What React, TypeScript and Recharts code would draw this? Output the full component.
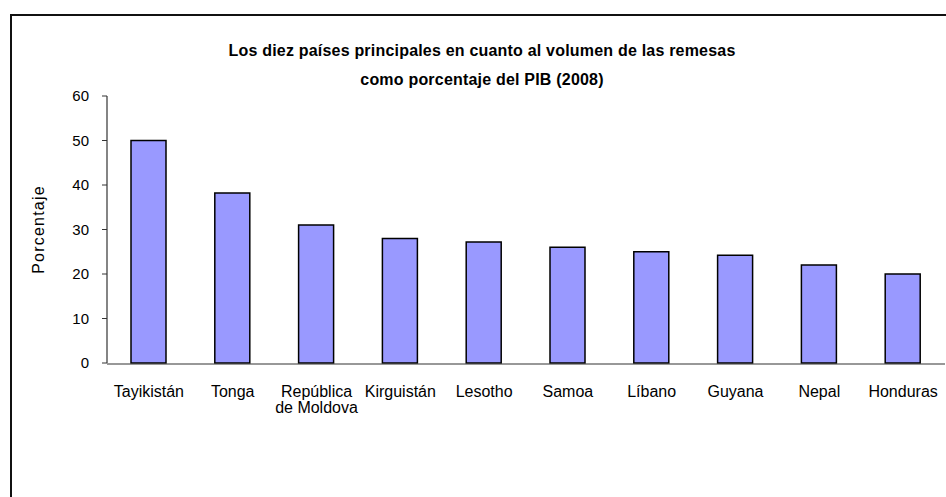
import React from 'react';
import { BarChart, Bar, XAxis, YAxis, Label } from 'recharts';

const categories: string[] = [
  'Tayikistán',
  'Tonga',
  'República\nde Moldova',
  'Kirguistán',
  'Lesotho',
  'Samoa',
  'Líbano',
  'Guyana',
  'Nepal',
  'Honduras',
];
const values: number[] = [50, 38.2, 31, 28, 27.2, 26, 25, 24.2, 22, 20];
const yTicks: number[] = [0, 10, 20, 30, 40, 50, 60];
const titleLines: string[] = [
  'Los diez países principales en cuanto al volumen de las remesas',
  'como porcentaje del PIB (2008)',
];
const yAxisTitle = 'Porcentaje';

const data = categories.map((name, i) => ({ name, value: values[i] }));
const separatorTicks = Array.from({ length: categories.length + 1 }, (_, i) => i);

const FONT = "'Liberation Sans', Arial, Helvetica, sans-serif";

const CategoryTick = (props: any) => {
  const { x, y, payload } = props;
  const lines = String(payload.value).split('\n');
  return (
    <g>
      {lines.map((ln, i) => (
        <text
          key={i}
          x={x}
          y={y + 34 + i * 16}
          textAnchor="middle"
          fontFamily={FONT}
          fontSize={16}
          fill="#000"
        >
          {ln}
        </text>
      ))}
    </g>
  );
};

export default function App() {
  return (
    <div
      style={{
        position: 'absolute',
        left: 0,
        top: 0,
        width: 946,
        height: 497,
        overflow: 'hidden',
        background: '#fff',
        fontFamily: FONT,
      }}
    >
      <div
        style={{
          position: 'absolute',
          left: 10,
          top: 14,
          width: 2000,
          height: 2000,
          border: '2px solid #111',
          boxSizing: 'border-box',
        }}
      />
      <div
        style={{
          position: 'absolute',
          left: 0,
          width: 964,
          top: 36,
          textAlign: 'center',
          fontWeight: 'bold',
          fontSize: 16,
          letterSpacing: 0.2,
          lineHeight: '29px',
          color: '#000',
        }}
      >
        {titleLines.map((t, i) => (
          <div key={i}>{t}</div>
        ))}
      </div>
      <div style={{ position: 'absolute', left: 0, top: 0 }}>
        <BarChart
          width={946}
          height={497}
          data={data}
          margin={{ top: 96, right: 1, bottom: 128, left: 0 }}
          barSize={35}
        >
          <XAxis
            xAxisId="cat"
            dataKey="name"
            type="category"
            axisLine={false}
            tickLine={false}
            tickSize={0}
            tickMargin={0}
            interval={0}
            height={1}
            tick={<CategoryTick />}
          />
          <XAxis
            xAxisId="sep"
            type="number"
            domain={[0, categories.length]}
            ticks={separatorTicks}
            allowDataOverflow
            tick={false}
            tickSize={5}
            height={5}
            stroke="#333"
            axisLine={{ stroke: '#333', strokeWidth: 1.2 }}
            tickLine={{ stroke: '#333' }}
          />
          <YAxis
            width={107}
            domain={[0, 60]}
            ticks={yTicks}
            interval={0}
            tickSize={5}
            tickMargin={13}
            stroke="#333"
            axisLine={{ stroke: '#333', strokeWidth: 1.2 }}
            tickLine={{ stroke: '#333' }}
            tick={{ fill: '#000', fontSize: 15, fontFamily: FONT }}
          >
            <Label
              value={yAxisTitle}
              angle={-90}
              position="insideLeft"
              offset={38}
              style={{ textAnchor: 'middle', fill: '#000', fontSize: 16, letterSpacing: 1.2, fontFamily: FONT }}
            />
          </YAxis>
          <Bar
            dataKey="value"
            xAxisId="cat"
            fill="#9999FF"
            stroke="#000"
            strokeWidth={1.5}
            isAnimationActive={false}
          />
        </BarChart>
      </div>
    </div>
  );
}
